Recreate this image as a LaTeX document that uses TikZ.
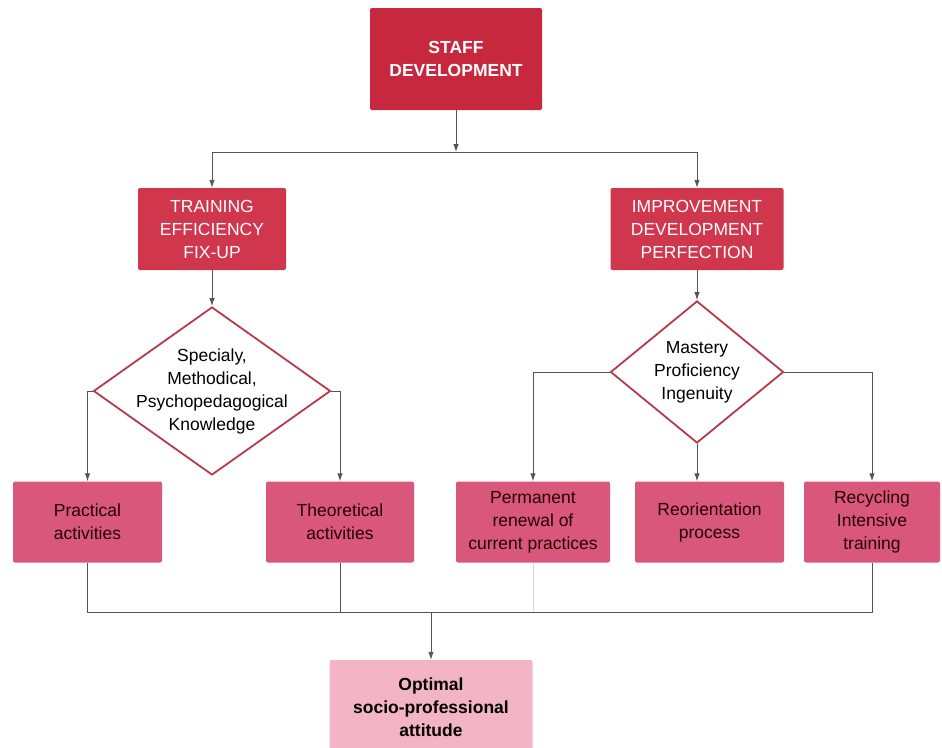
\documentclass[tikz,border=0pt]{standalone}
\usepackage{fontspec}
\setmainfont{Liberation Sans}
\usetikzlibrary{shapes.geometric, arrows.meta}

\definecolor{topred}{HTML}{C8283E}
\definecolor{midred}{HTML}{D0364C}
\definecolor{diared}{HTML}{B53A4A}
\definecolor{rowpink}{HTML}{D9577B}
\definecolor{goalpink}{HTML}{F3B4C6}
\definecolor{wire}{HTML}{555555}

\tikzset{
  redbox/.style={rectangle, rounded corners=2pt, fill=midred, text=white, align=center, inner sep=2pt},
  rowbox/.style={rectangle, rounded corners=2pt, fill=rowpink, text=black!85!red, align=center, inner sep=2pt, minimum height=81pt},
  choice/.style={diamond, draw=diared, line width=1.8pt, fill=white, inner sep=0pt},
  wiring/.style={draw=wire, line width=0.9pt},
  arr/.style={wiring, -{Latex[length=8pt,width=5.5pt]}}
}

\begin{document}
\begin{tikzpicture}[x=1pt, y=-1pt, font=\fontsize{17.5}{23}\selectfont]
\useasboundingbox (0,0) rectangle (942,747);

% top of the tree
\node[redbox, fill=topred, font=\fontsize{17.5}{23}\selectfont\bfseries, minimum width=172pt, minimum height=102pt] (staff) at (456,59) {STAFF\\DEVELOPMENT};
\node[redbox, minimum width=148pt, minimum height=82pt] (train) at (212,229) {TRAINING\\EFFICIENCY\\FIX-UP};
\node[redbox, minimum width=173pt, minimum height=82pt] (impr) at (697,229) {IMPROVEMENT\\DEVELOPMENT\\PERFECTION};
\coordinate (split) at (456,152);

% diamonds
\node[choice, minimum width=237pt, minimum height=168pt] (know) at (212,391) {};
\node[align=center] at (know) {Specialy,\\Methodical,\\Psychopedagogical\\Knowledge};
\node[choice, minimum width=173pt, minimum height=142pt] (mast) at (697,372) {};
\node[align=center] at (mast) {Mastery\\Proficiency\\Ingenuity};

% row of activities
\node[rowbox, minimum width=149pt] (prac) at (87.5,522) {Practical\\activities};
\node[rowbox, minimum width=148pt] (theo) at (340,522) {Theoretical\\activities};
\node[rowbox, minimum width=154pt] (perm) at (533,522) {Permanent\\renewal of\\current practices};
\node[rowbox, minimum width=149pt] (reor) at (709.5,522) {Reorientation\\process};
\node[rowbox, minimum width=136pt] (recy) at (872,522) {Recycling\\Intensive\\training};
\coordinate (merge) at (431,612);

% result
\node[rectangle, rounded corners=2pt, fill=goalpink, align=center, font=\fontsize{17.5}{23}\selectfont\bfseries, minimum width=203pt, minimum height=94pt] (goal) at (431,707) {Optimal\\socio-professional\\attitude};

% connectors
\draw[arr] (staff.south) -- (split);
\draw[arr] (split) -| (train.north);
\draw[arr] (split) -| (impr.north);
\draw[arr] (train.south) -- (know.north);
\draw[arr] (impr.south) -- (mast.north);
\draw[arr] (know.west) -| (prac.north);
\draw[arr] (know.east) -| (theo.north);
\draw[arr] (mast.west) -| (perm.north);
\draw[arr] (mast.east) -| (recy.north);
\draw[arr] (mast.south) -- (mast.south |- reor.north);
\draw[wiring] (prac.south) |- (merge);
\draw[wiring] (theo.south) |- (merge);
\draw[wiring] (recy.south) |- (merge);
\draw[wiring, draw=black!15] (perm.south) -- (perm.south |- merge);
\draw[arr] (merge) -- (goal.north);
\end{tikzpicture}
\end{document}
